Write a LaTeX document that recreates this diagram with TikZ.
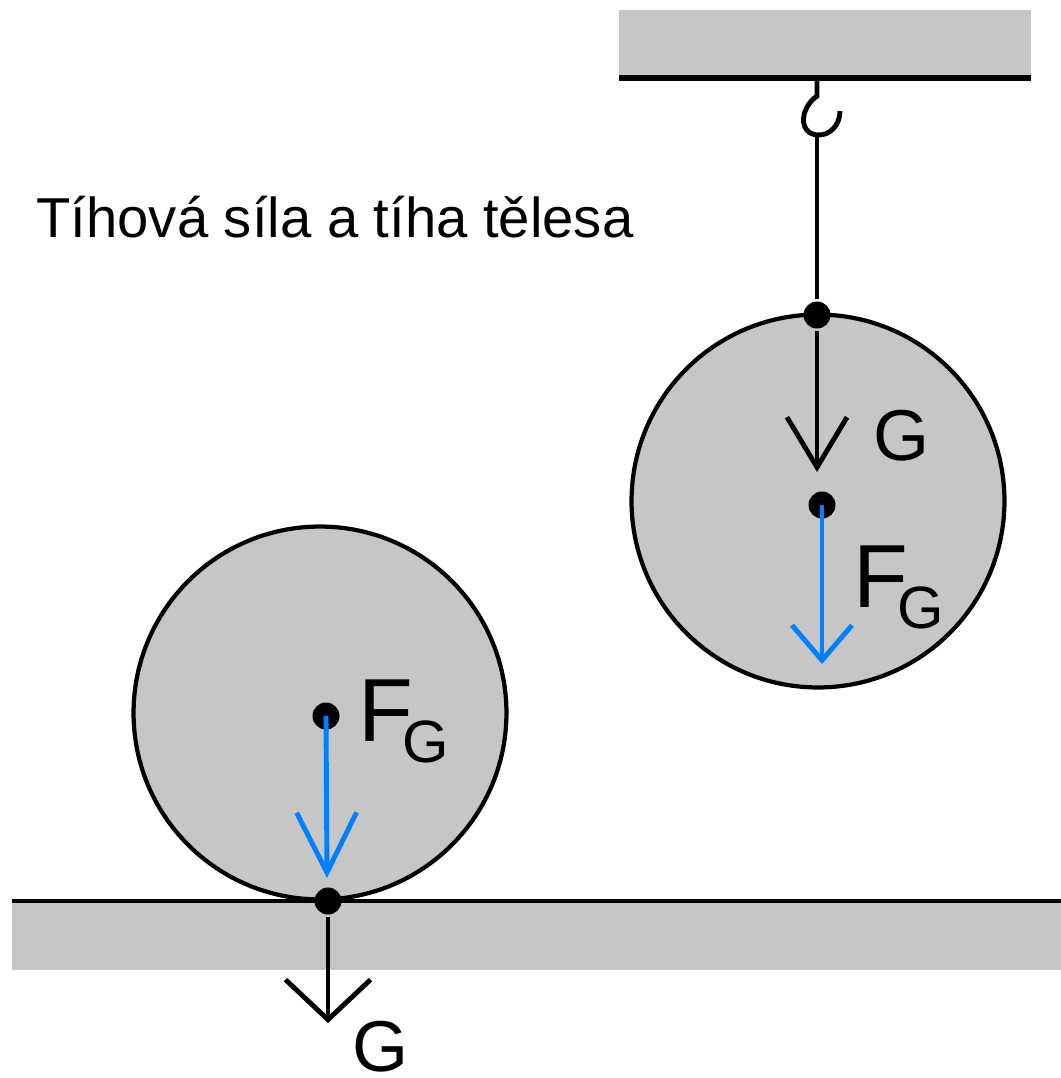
\documentclass[tikz,border=0pt]{standalone}
\usepackage{fontspec}
\setmainfont{Liberation Sans}
\usetikzlibrary{arrows.meta}
\definecolor{panel}{RGB}{198,198,198}
\definecolor{pull}{RGB}{0,128,255}
\tikzset{
  ball/.style={circle, draw, line width=2.4pt, fill=panel, minimum size=7.46cm, inner sep=0pt},
  dot/.style={circle, fill, inner sep=0pt, minimum size=0.54cm},
  vee/.style 2 args={-{Straight Barb[length=#1, width=#2]}},
  glabel/.style={anchor=base west, inner sep=0pt, font=\fontsize{41}{41}\selectfont},
  flabel/.style={anchor=base west, inner sep=0pt, font=\fontsize{51}{51}\selectfont}
}
\newcommand{\forcename}{F\kern-6pt\raisebox{-12pt}{\fontsize{34}{34}\selectfont G}}

\begin{document}
\begin{tikzpicture}[x=0.02cm, y=-0.02cm, line width=2.8pt]
  \useasboundingbox (0,0) rectangle (1061,1078);
  \node[anchor=base west, inner sep=0pt, font=\fontsize{32}{32}\selectfont] (title) at (34,237) {Tíhová síla a tíha tělesa};
  %
  \fill[panel] (619,10) rectangle (1031,76);
  \draw[line width=3.2pt] (619,78) -- (1031,78);
  \coordinate (hook) at (817,135);
  \draw (817,78) -- (817,96) .. controls (800,108) and (798,133) .. (hook) .. controls (830,136) and (840,125) .. (840,111);
  \node[ball] (upper) at (818,501) {};
  \node[dot] (hang) at (817,315) {};
  \node[dot] (upcenter) at (822,505) {};
  \draw (hook) -- (hang);
  \coordinate (upg) at (817,472);
  \draw[vee={1cm}{1.2cm}] (hang) -- (upg);
  \node[glabel] (upgname) at (871,460) {G};
  \coordinate (upf) at (822,664);
  \draw[pull, vee={0.7cm}{1.2cm}] (upcenter.center) -- (upf);
  \node[flabel] (upfname) at (851,607) {\forcename};
  %
  \fill[panel] (12,903) rectangle (1061,970);
  \node[ball] (lower) at (320,713) {};
  \draw (12,901) -- (1061,901);
  \node[dot] (lowcenter) at (326,716) {};
  \node[dot] (contact) at (328,901) {};
  \coordinate (lowf) at (327,878);
  \draw[pull, vee={1.2cm}{1.2cm}] (lowcenter.center) -- (lowf);
  \node[flabel] (lowfname) at (356,741) {\forcename};
  \coordinate (lowg) at (328,1023);
  \draw[vee={0.8cm}{1.7cm}] (contact) -- (lowg);
  \node[glabel] (lowgname) at (350,1071) {G};
\end{tikzpicture}
\end{document}
